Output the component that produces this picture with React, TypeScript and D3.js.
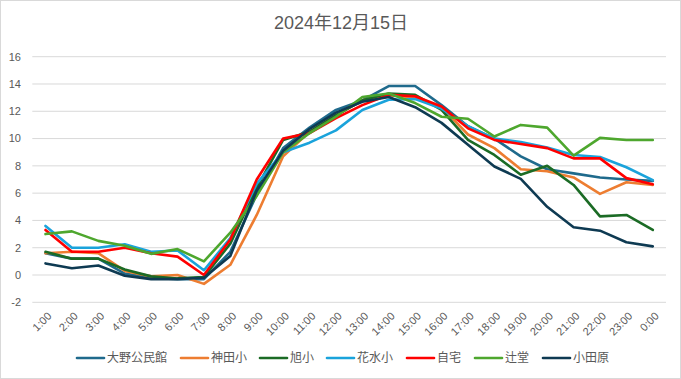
import React from "react";
import * as d3 from "d3";

const hours = ["1:00","2:00","3:00","4:00","5:00","6:00","7:00","8:00","9:00","10:00","11:00","12:00","13:00","14:00","15:00","16:00","17:00","18:00","19:00","20:00","21:00","22:00","23:00","0:00"];

const seriesNames = ["大野公民館","神田小","旭小","花水小","自宅","辻堂","小田原"];
const seriesColors = ["#1F6A8C","#ED7D31","#1B6B25","#1AA3DB","#FF0000","#4EA72E","#0E3A52"];

const ono = [1.6,1.2,1.2,0.1,-0.2,-0.3,-0.3,1.7,5.9,9.3,10.8,12.1,12.8,13.85,13.85,12.45,10.9,10.0,8.7,7.75,7.45,7.15,7.0,6.9];
const kanda = [1.6,1.7,1.6,0.3,-0.1,0.0,-0.65,0.75,4.4,8.7,10.5,11.7,12.8,13.2,13.0,12.3,10.3,9.3,7.75,7.6,7.15,5.95,6.8,6.6];
const asahi = [1.7,1.2,1.2,0.4,-0.1,-0.25,-0.15,2.3,6.4,9.9,10.5,11.7,12.8,13.3,13.2,12.1,9.9,8.8,7.35,8.0,6.6,4.3,4.4,3.3];
const hanamizu = [3.6,2.0,2.0,2.25,1.7,1.8,0.35,2.7,6.7,9.0,9.7,10.6,12.1,12.85,12.9,12.2,10.9,10.0,9.75,9.35,8.8,8.65,7.9,6.95];
const jitaku = [3.3,1.7,1.7,2.0,1.6,1.35,0.0,2.6,7.0,10.0,10.4,11.5,12.45,13.2,13.1,12.35,10.75,9.9,9.6,9.3,8.55,8.55,7.1,6.65];
const tsujido = [3.0,3.2,2.5,2.15,1.55,1.9,1.0,3.1,5.8,9.0,10.4,11.6,13.05,13.3,12.6,11.6,11.45,10.15,11.0,10.8,8.75,10.05,9.9,9.9];
const odawara = [0.85,0.5,0.7,-0.05,-0.3,-0.3,-0.2,1.4,6.2,9.1,10.7,11.9,12.7,13.05,12.3,11.15,9.55,7.95,7.05,5.0,3.5,3.25,2.4,2.1];

const yTicks = [-2,0,2,4,6,8,10,12,14,16];

const allSeries = [ono, kanda, asahi, hanamizu, jitaku, tsujido, odawara];

const W = 681, H = 379;

export default function App() {
  const x = d3.scaleBand<string>().domain(hours).range([32.3, 666]).padding(0);
  const cx = (h: string) => (x(h) as number) + x.bandwidth() / 2;
  const y = d3.scaleLinear().domain([-2, 16]).range([302.3, 56.7]);
  const line = d3.line<number>()
    .x((_, i) => cx(hours[i]))
    .y((d) => y(d));

  const legendX = [77, 181, 260, 327, 407, 475, 543];
  const font = "'Liberation Sans', 'Noto Sans CJK JP', sans-serif";
  const txt = "#595959";

  return (
    <svg width={W} height={H} style={{ position: "absolute", left: 0, top: 0, background: "#fff" }} fontFamily={font}>
      <rect x={0.5} y={0.5} width={W - 1} height={H - 1} fill="#fff" stroke="#D9D9D9" />
      <text x={341} y={29} textAnchor="middle" fontSize={18} fill={txt}>2024年12月15日</text>
      {yTicks.map((t) => (
        <g key={t}>
          <line x1={32.3} x2={666} y1={y(t)} y2={y(t)} stroke="#D9D9D9" strokeWidth={1} />
          <text x={21} y={y(t)} dy="0.35em" textAnchor="end" fontSize={11} fill={txt}>{t}</text>
        </g>
      ))}
      {hours.map((h) => (
        <text key={h} transform={`translate(${cx(h) + 4},${314}) rotate(-45)`} textAnchor="end" dy="0.35em" fontSize={11} fill={txt}>{h}</text>
      ))}
      {allSeries.map((s, i) => (
        <path key={i} d={line(s) as string} fill="none" stroke={seriesColors[i]} strokeWidth={2.6} strokeLinejoin="round" strokeLinecap="round" />
      ))}
      {seriesNames.map((n, i) => (
        <g key={n}>
          <line x1={legendX[i]} x2={legendX[i] + 27} y1={358} y2={358} stroke={seriesColors[i]} strokeWidth={2.6} strokeLinecap="round" />
          <text x={legendX[i] + 30} y={358} dy="0.35em" fontSize={12} fill={txt}>{n}</text>
        </g>
      ))}
    </svg>
  );
}
